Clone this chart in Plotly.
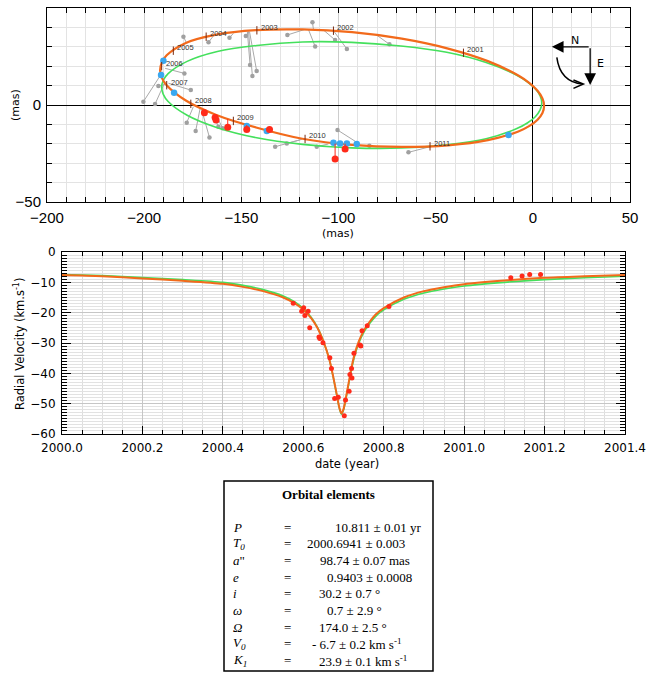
import plotly.graph_objects as go

W, H = 647, 675
def px(x): return x / W
def py(y): return 1 - y / H

# ---------------- Top panel: apparent orbit (mas) ----------------
orbit_fit_x = [-93.0, -118.57, -142.4, -162.86, -178.56, -188.43, -190.95, -191.8, -190.95, -188.43,
               -178.56, -162.86, -142.4, -118.57, -93.0, -67.43, -43.6, -23.14, -7.44, -1.72,
               2.43, 4.95, 5.8, 4.95, 2.43, -1.72, -7.44, -23.14, -43.6, -67.43, -93.0]
orbit_fit_y = [37.55, 38.95, 38.6, 36.3, 32.0, 25.6, 21.8, 17.95, 14.1, 10.18,
               2.32, -5.11, -11.59, -17.4, -20.6, -21.6, -20.79, -18.12, -13.62, -10.77,
               -7.59, -4.13, -0.45, 3.39, 7.32, 11.27, 15.18, 22.61, 29.09, 34.19, 37.55]

orbit_alt_x = [-93.2, -118.51, -142.1, -162.35, -177.89, -187.67, -190.16, -191.0, -190.16, -187.67,
               -177.89, -162.35, -142.1, -118.51, -93.2, -67.89, -44.3, -24.05, -8.51, -2.84,
               1.27, 3.76, 4.6, 3.76, 1.27, -2.84, -8.51, -24.05, -44.3, -67.89, -93.2]
orbit_alt_y = [32.3, 32.5, 30.7, 27.6, 22.5, 16.2, 12.75, 9.16, 5.5, 1.83,
               -5.28, -11.7, -16.9, -20.3, -22.1, -22.2, -20.5, -17.4, -12.3, -9.29,
               -6.02, -2.55, 1.04, 4.7, 8.37, 11.99, 15.48, 21.89, 27.15, 30.4, 32.3]

# grey measurements and their predicted positions on the orbit
gray_obs_x = [-200.4, -194.4, -192.7, -179.8, -179.3, -176.0, -166.9, -156.1, -147.7, -145.5,
              -144.3, -142.1, -126.3, -113.4, -112.0, -178.1, -173.5, -166.4, -161.8, -159.6,
              -132.6, -126.6, -111.2, -101.75, -95.7, -73.8, -100.5, -84.1, -64.0]
gray_obs_y = [1.7, 0.5, 9.8, 35.2, 16.3, 7.7, 32.3, 34.7, 35.6, 20.6,
              14.9, 17.5, 36.1, 42.6, 30.1, -9.1, -13.4, -16.7, -11.2, -12.0,
              -21.5, -19.8, -21.5, 33.5, 28.9, 31.3, -12.9, -21.0, -24.4]
gray_fit_x = [-190.4, -189.2, -188.4, -178.1, -189.2, -187.5, -164.4, -154.1, -146.3, -146.9,
              -146.3, -145.8, -117.2, -112.9, -115.5, -174.7, -171.2, -170.4, -164.4, -162.6,
              -118.9, -119.8, -105.2, -107.8, -102.6, -80.3, -88.9, -84.1, -52.9]
gray_fit_y = [17.2, 12.0, 10.8, 31.8, 18.9, 11.2, 35.6, 36.9, 37.8, 37.8,
              37.8, 37.8, 39.0, 39.0, 39.0, -0.9, -1.7, -2.6, -5.2, -6.0,
              -17.7, -18.0, -20.1, 38.7, 38.3, 36.0, -20.3, -20.5, -21.5]

blue_x = [-190.1, -191.3, -184.6, -147.2, -136.9, -102.6, -99.2, -95.7, -90.6, -12.5]
blue_y = [22.85, 15.46, 6.36, -10.8, -13.4, -19.4, -19.8, -19.8, -20.1, -15.5]

red_x = [-169.0, -163.5, -163.0, -157.0, -147.2, -135.5, -101.75, -96.6]
red_y = [-4.0, -6.4, -7.7, -11.5, -12.6, -12.6, -27.8, -22.7]
red_fit_x = [-169.0, -163.5, -163.0, -157.0, -147.2, -135.5, -101.75, -96.6]
red_fit_y = [-3.0, -4.9, -5.0, -7.2, -10.3, -13.0, -19.9, -19.9]

years = ["2001", "2002", "2003", "2004", "2005", "2006", "2007", "2008", "2009", "2010", "2011"]
year_x = [-35.7, -102.6, -142.0, -168.1, -185.0, -191.0, -188.4, -176.0, -154.1, -117.2, -52.9]
year_y = [26.9, 38.3, 38.5, 35.2, 28.0, 20.0, 10.2, 0.6, -8.2, -17.5, -21.3]

top_x_tickvals = [-250, -200, -150, -100, -50, 0, 50]
top_x_ticktext = ["\u2212200", "\u2212200", "\u2212150", "\u2212100", "\u221250", "0", "50"]
top_y_tickvals = [-50, 0, 50]

# ---------------- Bottom panel: radial velocity ----------------
rv_fit_t = [2000.00, 2000.10, 2000.20, 2000.30, 2000.40, 2000.45, 2000.50, 2000.55, 2000.58, 2000.60,
            2000.62, 2000.635, 2000.65, 2000.665, 2000.675, 2000.684, 2000.690, 2000.695, 2000.700, 2000.706,
            2000.713, 2000.720, 2000.728, 2000.738, 2000.750, 2000.765, 2000.78, 2000.80, 2000.85, 2000.90,
            2000.95, 2001.00, 2001.10, 2001.20, 2001.30, 2001.40]
rv_fit_v = [-7.6, -8.0, -8.7, -9.5, -10.5, -11.5, -12.9, -15.0, -17.0, -19.0,
            -21.9, -25.0, -29.5, -35.5, -41.5, -47.5, -51.5, -53.2, -51.8, -48.0,
            -43.0, -38.0, -33.5, -29.5, -26.0, -23.0, -20.6, -18.5, -15.0, -12.9,
            -11.6, -10.6, -9.4, -8.5, -8.0, -7.6]
rv_alt_v = [-7.4, -7.8, -8.4, -9.1, -10.0, -11.0, -12.4, -14.5, -16.5, -18.6,
            -21.6, -24.8, -29.4, -35.5, -41.6, -47.7, -51.7, -53.5, -52.1, -48.4,
            -43.5, -38.6, -34.1, -30.1, -26.6, -23.6, -21.2, -19.1, -15.6, -13.5,
            -12.2, -11.2, -10.0, -9.1, -8.5, -8.0]

rv_obs_t = [2000.575, 2000.596, 2000.601, 2000.604, 2000.612, 2000.616, 2000.639, 2000.641, 2000.649, 2000.666,
            2000.670, 2000.678, 2000.687, 2000.702, 2000.705, 2000.714, 2000.716, 2000.720, 2000.721, 2000.726,
            2000.741, 2000.743, 2000.746, 2000.759, 2000.813, 2001.116, 2001.144, 2001.163, 2001.190]
rv_obs_v = [-16.9, -19.5, -18.4, -20.9, -19.5, -25.0, -28.0, -28.5, -29.9, -34.9,
            -38.4, -48.3, -47.9, -54.0, -48.8, -45.9, -40.4, -38.4, -41.5, -33.4,
            -30.7, -31.0, -26.0, -24.3, -18.0, -8.5, -7.9, -7.4, -7.4]

bottom_x_tickvals = [2000.0, 2000.2, 2000.4, 2000.6, 2000.8, 2001.0, 2001.2, 2001.4]
bottom_x_ticktext = ["2000.0", "2000.2", "2000.4", "2000.6", "2000.8", "2001.0", "2001.2", "2001.4"]
bottom_y_tickvals = [-60, -50, -40, -30, -20, -10, 0]

# ---------------- Orbital elements table ----------------
elem_symbols = ["<i>P</i>", "<i>T<sub>0</sub></i>", "<i>a</i>\"", "<i>e</i>", "<i>i</i>",
                "<i>ω</i>", "<i>Ω</i>", "<i>V<sub>0</sub></i>", "<i>K<sub>1</sub></i>"]
elem_values = ["10.811 ± 0.01 yr", "2000.6941 ± 0.003", "98.74 ± 0.07 mas", "0.9403 ± 0.0008",
               "30.2 ± 0.7 °", "0.7 ± 2.9 °", "174.0 ± 2.5 °",
               "- 6.7 ± 0.2 km s<sup>-1</sup>", "23.9 ± 0.1 km s<sup>-1</sup>"]
value_left_px = [333, 305, 318, 325, 317, 325, 317, 310, 317]

ORANGE = "#f26a1b"
GREEN = "#44e05c"
RED = "#ff2a1a"
BLUE = "#3aa8f0"
GRAY = "#a9a9a9"

def segments(x0s, y0s, x1s, y1s):
    xs, ys = [], []
    for a, b, c, d in zip(x0s, y0s, x1s, y1s):
        xs += [a, c, None]
        ys += [b, d, None]
    return xs, ys

fig = go.Figure()

sx, sy = segments(gray_fit_x, gray_fit_y, gray_obs_x, gray_obs_y)
fig.add_trace(go.Scatter(x=sx, y=sy, mode="lines", line=dict(color=GRAY, width=1),
                         xaxis="x", yaxis="y", hoverinfo="skip"))
fig.add_trace(go.Scatter(x=gray_obs_x, y=gray_obs_y, mode="markers",
                         marker=dict(color="#a0a0a0", size=4.5), xaxis="x", yaxis="y"))
fig.add_trace(go.Scatter(x=orbit_alt_x, y=orbit_alt_y, mode="lines",
                         line=dict(color=GREEN, width=1.6, shape="spline", smoothing=1.0),
                         xaxis="x", yaxis="y"))
fig.add_trace(go.Scatter(x=orbit_fit_x, y=orbit_fit_y, mode="lines",
                         line=dict(color=ORANGE, width=2.2, shape="spline", smoothing=1.0),
                         xaxis="x", yaxis="y"))
fig.add_trace(go.Scatter(x=blue_x, y=blue_y, mode="markers",
                         marker=dict(color=BLUE, size=6.5), xaxis="x", yaxis="y"))
rx, ry = segments(red_fit_x, red_fit_y, red_x, red_y)
fig.add_trace(go.Scatter(x=rx, y=ry, mode="lines", line=dict(color=RED, width=1),
                         xaxis="x", yaxis="y"))
fig.add_trace(go.Scatter(x=red_x, y=red_y, mode="markers",
                         marker=dict(color=RED, size=7), xaxis="x", yaxis="y"))
fig.add_trace(go.Scatter(x=year_x, y=year_y, mode="markers",
                         marker=dict(symbol="line-ns", size=6, line=dict(color="#7a2a10", width=1)),
                         xaxis="x", yaxis="y"))

fig.add_trace(go.Scatter(x=rv_fit_t, y=rv_alt_v, mode="lines",
                         line=dict(color=GREEN, width=1.6, shape="spline", smoothing=0.8),
                         xaxis="x2", yaxis="y2"))
fig.add_trace(go.Scatter(x=rv_fit_t, y=rv_fit_v, mode="lines",
                         line=dict(color=ORANGE, width=2, shape="spline", smoothing=0.8),
                         xaxis="x2", yaxis="y2"))
fig.add_trace(go.Scatter(x=rv_obs_t, y=rv_obs_v, mode="markers",
                         marker=dict(color=RED, size=5), xaxis="x2", yaxis="y2"))

axis_common = dict(showline=True, linecolor="black", linewidth=1, mirror="ticks",
                   ticks="inside", tickcolor="black", showgrid=True, automargin=False)

top_font = dict(family="Liberation Sans, Arial, sans-serif", size=15, color="black")
bot_font = dict(family="DejaVu Sans, sans-serif", size=12, color="black")

fig.update_layout(
    width=W, height=H, autosize=False, margin=dict(l=0, r=0, t=0, b=0, pad=0, autoexpand=False),
    paper_bgcolor="white", plot_bgcolor="white", showlegend=False,
    xaxis=dict(domain=[px(47), px(630)], anchor="y", range=[-250, 50],
               tickmode="array", tickvals=top_x_tickvals, ticktext=top_x_ticktext,
               ticklen=5, gridcolor="#cdcdcd", zeroline=True, zerolinecolor="black",
               zerolinewidth=1, tickfont=top_font, ticklabelstandoff=2,
               minor=dict(dtick=10, tick0=0, ticks="inside", ticklen=5, tickcolor="black",
                          showgrid=True, gridcolor="#e3e3e3"),
               **axis_common),
    yaxis=dict(domain=[py(202), py(8)], anchor="x", range=[-50, 50],
               tickmode="array", tickvals=top_y_tickvals,
               ticklen=5, gridcolor="#cdcdcd", zeroline=True, zerolinecolor="black",
               zerolinewidth=1, tickfont=top_font, ticklabelstandoff=2,
               minor=dict(dtick=10, tick0=0, ticks="inside", ticklen=5, tickcolor="black",
                          showgrid=True, gridcolor="#e3e3e3"),
               **axis_common),
    xaxis2=dict(domain=[px(62), px(625)], anchor="y2", range=[2000.0, 2001.4],
                tickmode="array", tickvals=bottom_x_tickvals, ticktext=bottom_x_ticktext,
                ticklen=8, gridcolor="#c6c6c6", zeroline=False, tickfont=bot_font,
                ticklabelstandoff=3,
                minor=dict(dtick=0.05, tick0=2000.0, ticks="inside", ticklen=4, tickcolor="black",
                           showgrid=True, gridcolor="#dedede"),
                **axis_common),
    yaxis2=dict(domain=[py(434), py(252)], anchor="x2", range=[-60, 0],
                tickmode="array", tickvals=bottom_y_tickvals,
                ticklen=9, gridcolor="#c6c6c6", zeroline=False, tickfont=bot_font,
                ticklabelstandoff=3,
                minor=dict(dtick=1, tick0=0, ticks="inside", ticklen=5, tickcolor="black",
                           showgrid=True, gridcolor="#e2e2e2"),
                **axis_common),
)

ann = []
def paper_text(text, x, y, font, angle=0, xanchor="center"):
    return dict(text=text, x=px(x), y=py(y), xref="paper", yref="paper", showarrow=False,
                textangle=angle, xanchor=xanchor, yanchor="middle", font=font)

title_font = dict(family="DejaVu Sans, sans-serif", size=11, color="black")
ann.append(paper_text("(mas)", 15, 105, title_font, angle=-90))
ann.append(paper_text("(mas)", 338, 233, title_font))
ann.append(paper_text("Radial Velocity (km.s<sup>-1</sup>)", 19, 344,
                      dict(family="DejaVu Sans, sans-serif", size=11.5, color="black"), angle=-90))
ann.append(paper_text("date (year)", 347, 464,
                      dict(family="DejaVu Sans, sans-serif", size=11.5, color="black")))

# year labels along the orbit
for lab, xv, yv in zip(years, year_x, year_y):
    ann.append(dict(text=lab, x=xv, y=yv, xref="x", yref="y", showarrow=False,
                    xanchor="left", yanchor="middle", xshift=2, yshift=3,
                    font=dict(family="Liberation Sans, Arial, sans-serif", size=7.5, color="#333333")))

# compass N / E
ann.append(dict(text="", x=9.8, y=30.0, ax=29.5, ay=30.0, xref="x", yref="y",
                axref="x", ayref="y", showarrow=True, arrowhead=2, arrowsize=1.8,
                arrowwidth=1.3, arrowcolor="black"))
ann.append(dict(text="", x=29.5, y=10.3, ax=29.5, ay=30.0, xref="x", yref="y",
                axref="x", ayref="y", showarrow=True, arrowhead=2, arrowsize=1.8,
                arrowwidth=1.3, arrowcolor="black"))
ann.append(dict(text="N", x=21.9, y=33.3, xref="x", yref="y", showarrow=False,
                xanchor="center", yanchor="middle",
                font=dict(family="DejaVu Sans, sans-serif", size=11, color="black")))
ann.append(dict(text="E", x=32.1, y=21.5, xref="x", yref="y", showarrow=False,
                xanchor="left", yanchor="middle",
                font=dict(family="DejaVu Sans, sans-serif", size=11, color="black")))

# table
serif = "Liberation Serif, Times New Roman, serif"
tfont = dict(family=serif, size=13, color="black")
ann.append(paper_text("<b>Orbital elements</b>", 328, 495, tfont))
for i, (sym, val, vx) in enumerate(zip(elem_symbols, elem_values, value_left_px)):
    yy = 527 + 16.7 * i
    ann.append(paper_text(sym, 231, yy, tfont, xanchor="left"))
    ann.append(paper_text("=", 287, yy, tfont))
    ann.append(paper_text(val, vx, yy, tfont, xanchor="left"))

shapes = [
    dict(type="path", xref="x", yref="y", path="M 12.35,24.6 Q 14.0,11.9 25.7,10.8",
         line=dict(color="black", width=1.5)),
    dict(type="path", xref="x", yref="y", path="M 20.9,12.9 L 26.0,10.8 L 20.9,8.6",
         line=dict(color="black", width=1.5)),
    dict(type="rect", xref="paper", yref="paper", x0=px(224), x1=px(433), y0=py(671), y1=py(481),
         line=dict(color="black", width=1.5)),
]

fig.update_layout(annotations=ann, shapes=shapes)
fig.write_html("out.html", config={"responsive": False, "displayModeBar": False},
               post_script="document.body.style.margin='0px';document.body.style.overflow='hidden';")
